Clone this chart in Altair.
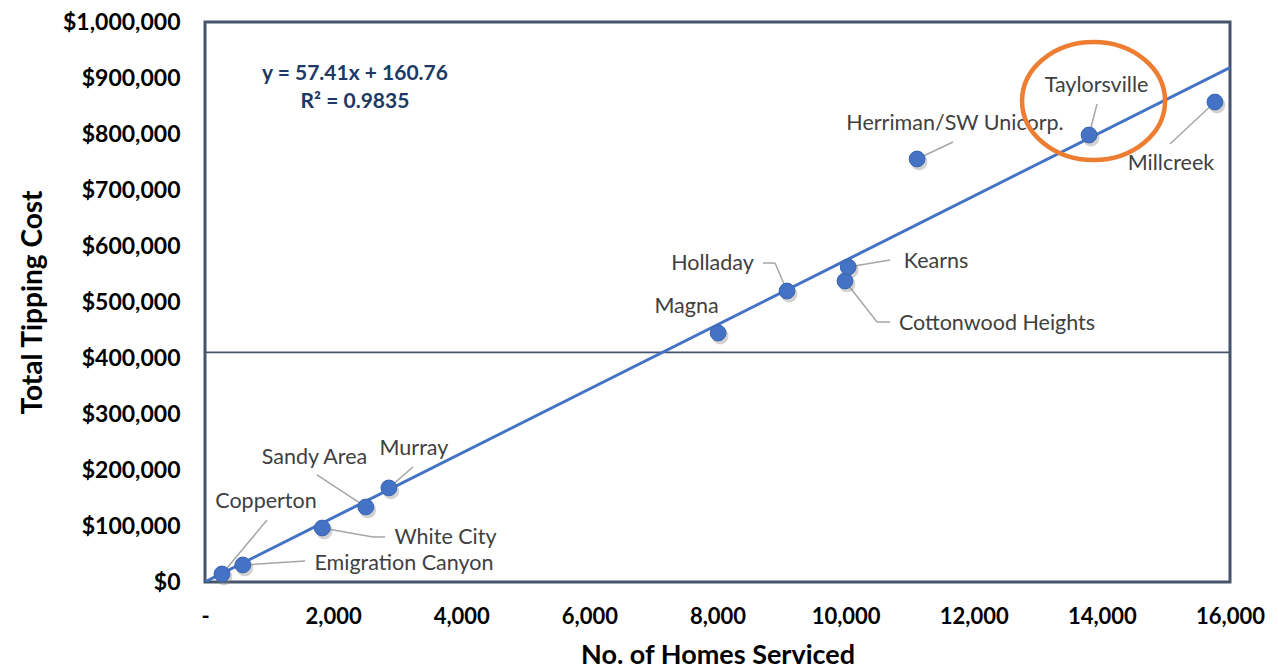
import altair as alt
import pandas as pd

# ---- data ----
names = ["Copperton", "Emigration Canyon", "White City", "Sandy Area", "Murray",
         "Magna", "Holladay", "Cottonwood Heights", "Kearns",
         "Herriman/SW Unicorp.", "Taylorsville", "Millcreek"]
homes = [265, 590, 1830, 2510, 2870, 8010, 9085, 9990, 10040, 11115, 13800, 15765]
cost = [14300, 30400, 96400, 134000, 168000, 444600, 519600, 537500, 562500,
        755400, 798200, 857100]

# label anchor points (data units)
label_x = [952, 3106, 3754, 1709, 3262, 7516, 7922, 12363, 11411, 11707, 13916, 15079]
label_y = [142900, 32100, 78600, 221400, 237500, 491100, 567900, 460700, 571400,
           817900, 885700, 746400]

# leader line segments (data units)
seg_x1 = [968, 590, 1830, 2622, 1748, 3247, 8710, 8898, 10040, 9990, 10490, 11115, 13924, 15063]
seg_y1 = [110700, 30400, 96400, 80400, 191100, 205400, 569600, 569600, 562500, 537500,
          464300, 755400, 853600, 782100]
seg_x2 = [265, 1561, 2622, 2810, 2510, 2870, 8898, 9085, 10693, 10490, 10693, 11676, 13800, 15765]
seg_y2 = [14300, 37500, 80400, 80400, 134000, 168000, 569600, 519600, 575000, 464300,
          464300, 785700, 798200, 857100]

# trendline
slope = 57.41
intercept = 160.76
trend_x = [0, 16000]

# horizontal reference line
ref_cost = [410000]

# equation annotation
eq_text = ["y = 57.41x + 160.76", "R² = 0.9835"]
eq_x = [2341, 2341]
eq_y = [907100, 857100]

# highlight ellipse around Taylorsville
ell_x = [13870]
ell_y = [858900]

x_ticks = [0, 2000, 4000, 6000, 8000, 10000, 12000, 14000, 16000]
y_ticks = [0, 100000, 200000, 300000, 400000, 500000, 600000, 700000, 800000, 900000, 1000000]

BLUE = "#4472C4"
FRAME = "#44546A"
FONT = "Lato"

pts = pd.DataFrame({"name": names, "homes": homes, "cost": cost})
labels = pd.DataFrame({"name": names, "lx": label_x, "ly": label_y})
segs = pd.DataFrame({"x1": seg_x1, "y1": seg_y1, "x2": seg_x2, "y2": seg_y2})
trend = pd.DataFrame({"homes": trend_x})
ref = pd.DataFrame({"cost": ref_cost})
eq = pd.DataFrame({"t": eq_text, "x": eq_x, "y": eq_y})
ell = pd.DataFrame({"x": ell_x, "y": ell_y})

xscale = alt.Scale(domain=[0, 16000], nice=False, zero=False)
yscale = alt.Scale(domain=[0, 1000000], nice=False, zero=False)

xaxis = alt.Axis(values=x_ticks, labelExpr="datum.value == 0 ? '-' : format(datum.value, ',')",
                 grid=False, ticks=False, tickSize=0, domain=False,
                 labelFont=FONT, labelFontWeight="bold", labelFontSize=22, labelColor="#000000",
                 labelPadding=34, labelBaseline="middle", labelFlush=False, labelOverlap=False,
                 title="No. of Homes Serviced", titleFont=FONT, titleFontSize=27,
                 titleFontWeight="bold", titleColor="#000000", titleY=73, titleBaseline="middle")
yaxis = alt.Axis(values=y_ticks, format="$,.0f", grid=False, ticks=False, tickSize=0, domain=False,
                 labelFont=FONT, labelFontWeight="bold", labelFontSize=23, labelColor="#000000",
                 labelPadding=25, labelFlush=False, labelOverlap=False,
                 title="Total Tipping Cost", titleFont=FONT, titleFontSize=28,
                 titleFontWeight="bold", titleColor="#000000", titleX=-172, titleY=280,
                 titleAngle=270, titleBaseline="middle")

refline = alt.Chart(ref).mark_rule(color=FRAME, strokeWidth=1.6).encode(
    y=alt.Y("cost:Q", scale=yscale, axis=yaxis))

trendline = alt.Chart(trend).transform_calculate(
    cost=f"{slope} * datum.homes + {intercept}"
).mark_line(color=BLUE, strokeWidth=3, clip=True).encode(
    x=alt.X("homes:Q", scale=xscale, axis=xaxis),
    y=alt.Y("cost:Q", scale=yscale, axis=yaxis))

leaders = alt.Chart(segs).mark_rule(color="#A6A6A6", strokeWidth=1.5).encode(
    x=alt.X("x1:Q", scale=xscale), y=alt.Y("y1:Q", scale=yscale),
    x2="x2:Q", y2="y2:Q")

shadow = alt.Chart(pts).mark_point(filled=True, color="#7f7f7f", opacity=0.35, size=280,
                                   xOffset=2, yOffset=3).encode(
    x=alt.X("homes:Q", scale=xscale), y=alt.Y("cost:Q", scale=yscale))

points = alt.Chart(pts).mark_point(filled=True, color=BLUE, opacity=1, size=250,
                                   stroke="#3a64b0", strokeWidth=1).encode(
    x=alt.X("homes:Q", scale=xscale), y=alt.Y("cost:Q", scale=yscale))

texts = alt.Chart(labels).mark_text(font=FONT, fontSize=21.5, color="#404040",
                                    align="center", baseline="middle").encode(
    x=alt.X("lx:Q", scale=xscale), y=alt.Y("ly:Q", scale=yscale), text="name:N")

eqtext = alt.Chart(eq).mark_text(font=FONT, fontSize=21, fontWeight="bold", color="#203864",
                                 align="center", baseline="middle").encode(
    x=alt.X("x:Q", scale=xscale), y=alt.Y("y:Q", scale=yscale), text="t:N")

ellipse_path = ("M 1 0 C 1 0.4556 0.5523 0.825 0 0.825 C -0.5523 0.825 -1 0.4556 -1 0 "
                "C -1 -0.4556 -0.5523 -0.825 0 -0.825 C 0.5523 -0.825 1 -0.4556 1 0 Z")
ellipse = alt.Chart(ell).mark_point(shape=ellipse_path, filled=False, color="#ED7D31",
                                    strokeWidth=4.5, size=20449, opacity=1).encode(
    x=alt.X("x:Q", scale=xscale), y=alt.Y("y:Q", scale=yscale))

chart = alt.layer(refline, trendline, leaders, shadow, points, texts, eqtext, ellipse).properties(
    width=1025, height=560,
    autosize=alt.AutoSizeParams(type="none"),
    padding={"left": 197, "top": 14, "right": 40, "bottom": 88},
    background="#ffffff",
).configure_view(stroke=FRAME, strokeWidth=3)

chart.save("out.html", embed_options={"renderer": "svg", "actions": False})
